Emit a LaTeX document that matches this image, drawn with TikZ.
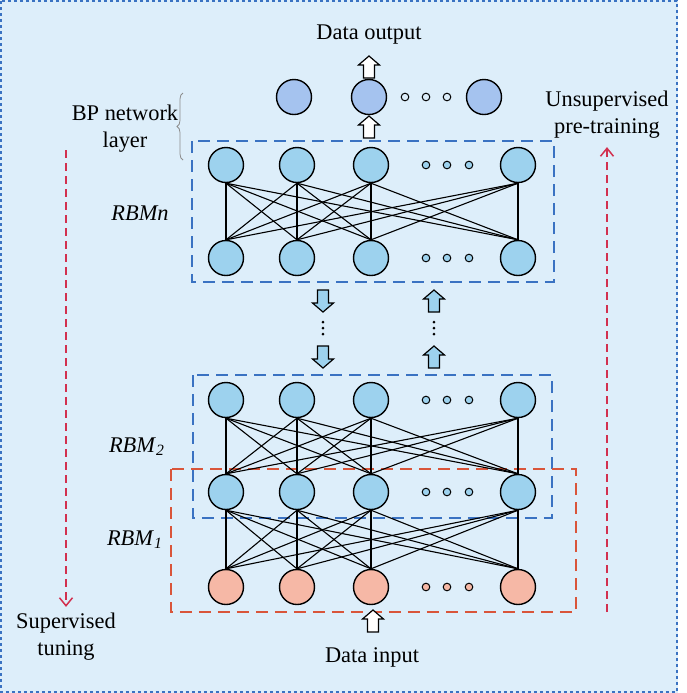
\documentclass[tikz,border=0pt]{standalone}
\usepackage{fontspec}
\setmainfont{Liberation Serif}
\usetikzlibrary{arrows.meta,decorations.pathreplacing}
\definecolor{panelbg}{HTML}{DDEEFA}
\definecolor{framebl}{HTML}{3A72C2}
\definecolor{unitbl}{HTML}{9DD2EE}
\definecolor{unitout}{HTML}{A5C3EF}
\definecolor{unitin}{HTML}{F6B8A6}
\definecolor{boxred}{HTML}{D9553A}
\definecolor{flowred}{HTML}{D2304F}
\tikzset{
  rbm unit/.style={
    circle,draw=black,line width=0.7pt,minimum size=17.5pt,inner sep=0pt
  },
  rbm dot/.style={circle,draw=black,line width=0.5pt,minimum size=3.8pt,inner sep=0pt},
  rbm edge/.style={black,line width=0.55pt},
  rbm box/.style={line width=1.2pt,dash pattern=on 6pt off 3.5pt},
  flow arrow/.style={flowred,line width=0.75pt,dash pattern=on 4pt off 2.5pt,
    -{Straight Barb[length=4pt,width=6.5pt]}},
  blk arrow/.style={draw=black,line width=0.6pt,line join=miter},
  ell dot/.style={circle,fill=black,minimum size=1.5pt,inner sep=0pt},
  lbl/.style={font=\fontsize{11.2}{13.5}\selectfont,align=center,inner sep=0pt}
}
\newcommand{\blkarrowat}[3]{%
  \begin{scope}[shift={(#1)},yscale=#3]
    \draw[blk arrow,#2] (0,-11)--(10.5,-2)--(5.5,-2)--(5.5,11)--(-5.5,11)
      --(-5.5,-2)--(-10.5,-2)--cycle;
  \end{scope}%
}

\begin{document}
\begin{tikzpicture}[x=0.5pt,y=-0.5pt]
  \useasboundingbox (0,0) rectangle (687,693);
  \fill[panelbg] (0,0) rectangle (678,693);
  \draw[framebl,line width=0.8pt,dash pattern=on 1.6pt off 1.4pt] (1,1) rectangle (677,692);

  % dashed layer boxes
  \draw[rbm box,draw=framebl] (192,141) rectangle (554,282);
  \draw[rbm box,draw=framebl] (193,375) rectangle (552,518);
  \draw[rbm box,draw=boxred] (171,469) rectangle (576,612);

  % units
  \foreach \x [count=\i] in {226,297,371,518} {
    \node[rbm unit,fill=unitbl] (a\i) at (\x,165) {};
    \node[rbm unit,fill=unitbl] (b\i) at (\x,258) {};
    \node[rbm unit,fill=unitbl] (c\i) at (\x,400) {};
    \node[rbm unit,fill=unitbl] (d\i) at (\x,492) {};
    \node[rbm unit,fill=unitin] (e\i) at (\x,587) {};
  }
  \node[rbm unit,fill=unitout] (o1) at (294,97) {};
  \node[rbm unit,fill=unitout] (o2) at (369,97) {};
  \node[rbm unit,fill=unitout] (o3) at (484,97) {};
  \foreach \x [count=\k] in {426,447,469} {
    \node[rbm dot,fill=unitbl] (ad\k) at (\x,165) {};
    \node[rbm dot,fill=unitbl] (bd\k) at (\x,258) {};
    \node[rbm dot,fill=unitbl] (cd\k) at (\x,400) {};
    \node[rbm dot,fill=unitbl] (dd\k) at (\x,492) {};
    \node[rbm dot,fill=unitin] (ed\k) at (\x,587) {};
  }
  \foreach \x [count=\k] in {405,426,447}
    \node[rbm dot,fill=panelbg] (od\k) at (\x,97) {};

  % full bipartite links
  \foreach \i in {1,...,4} {
    \foreach \j in {1,...,4} {
      \draw[rbm edge] (a\i.south) -- (b\j.north);
      \draw[rbm edge] (c\i.south) -- (d\j.north);
      \draw[rbm edge] (d\i.south) -- (e\j.north);
    }
  }

  % block arrows
  \blkarrowat{369,67}{fill=white}{1}
  \blkarrowat{369,127}{fill=white}{1}
  \blkarrowat{373,621}{fill=white}{1}
  \blkarrowat{323,301}{fill=unitbl}{-1}
  \blkarrowat{323,357}{fill=unitbl}{-1}
  \blkarrowat{434,301}{fill=unitbl}{1}
  \blkarrowat{434,357}{fill=unitbl}{1}
  \foreach \y [count=\k] in {322,328,334} {
    \node[ell dot] (vl\k) at (323,\y) {};
    \node[ell dot] (vr\k) at (434,\y) {};
  }

  % labels
  \node[lbl] (dout) at (369,35) {Data output};
  \node[lbl] (din) at (372,657) {Data input};
  \node[lbl] (bp) at (125,129) {BP network\\layer};
  \node[lbl] (rn) at (140,213) {\textit{RBMn}};
  \node[lbl] (r2) at (137,447) {\textit{RBM}\textsubscript{\textit{2}}};
  \node[lbl] (r1) at (135,540) {\textit{RBM}\textsubscript{\textit{1}}};
  \node[lbl] (uns) at (607,115) {Unsupervised\\pre-training};
  \node[lbl] (sup) at (66,637) {Supervised\\tuning};

  \coordinate (bpl) at (183,160);
  \coordinate (bph) at (183,93);
  \draw[black!45,line width=0.4pt,decorate,decoration={brace,amplitude=3pt}] (bpl) -- (bph);

  % training directions
  \coordinate (st) at (66,150);
  \coordinate (ub) at (607,612);
  \draw[flow arrow] (st) -- ([yshift=3pt]sup.north);
  \draw[flow arrow] (ub) -- ([yshift=-4pt]uns.south);
\end{tikzpicture}
\end{document}
